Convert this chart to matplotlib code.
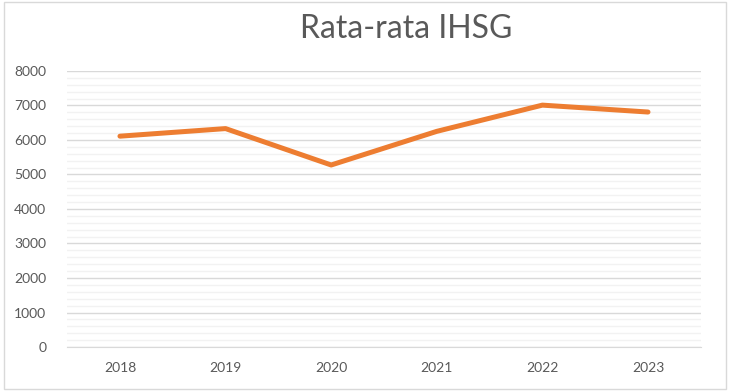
import matplotlib.pyplot as plt
from matplotlib.patches import Rectangle
from matplotlib.ticker import MultipleLocator

plt.rcParams["font.family"] = ["Lato", "DejaVu Sans"]

years = ["2018", "2019", "2020", "2021", "2022", "2023"]
ihsg = [6110, 6330, 5275, 6250, 7010, 6810]

fig = plt.figure(figsize=(7.3, 3.91), dpi=100)
ax = fig.add_axes([0.092, 0.1125, 0.868, 0.706])

x = range(len(years))
ax.plot(x, ihsg, color="#ED7D31", linewidth=3.6, solid_capstyle="round", zorder=3)

ax.set_xlim(-0.5, len(years) - 0.5)
ax.set_ylim(0, 8000)
ax.set_xticks(list(x))
ax.set_xticklabels(years)
ax.yaxis.set_major_locator(MultipleLocator(1000))
ax.yaxis.set_minor_locator(MultipleLocator(200))
ax.grid(which="major", axis="y", color="#D9D9D9", linewidth=1.0)
ax.grid(which="minor", axis="y", color="#F2F2F2", linewidth=1.0)
ax.set_axisbelow(True)

for s in ["top", "right", "left"]:
    ax.spines[s].set_visible(False)
ax.spines["bottom"].set_color("#D9D9D9")
ax.tick_params(which="both", length=0, labelsize=10, labelcolor="#595959")
ax.tick_params(axis="x", pad=11)
ax.tick_params(axis="y", pad=15)

fig.text(0.556, 0.925, "Rata-rata IHSG", ha="center", va="center",
         fontsize=23, color="#595959")

fig.patches.append(Rectangle((0.006, 0.005), 0.988, 0.99, transform=fig.transFigure,
                             fill=False, edgecolor="#D9D9D9", linewidth=1.0))

fig.savefig("out.png", dpi=100)
